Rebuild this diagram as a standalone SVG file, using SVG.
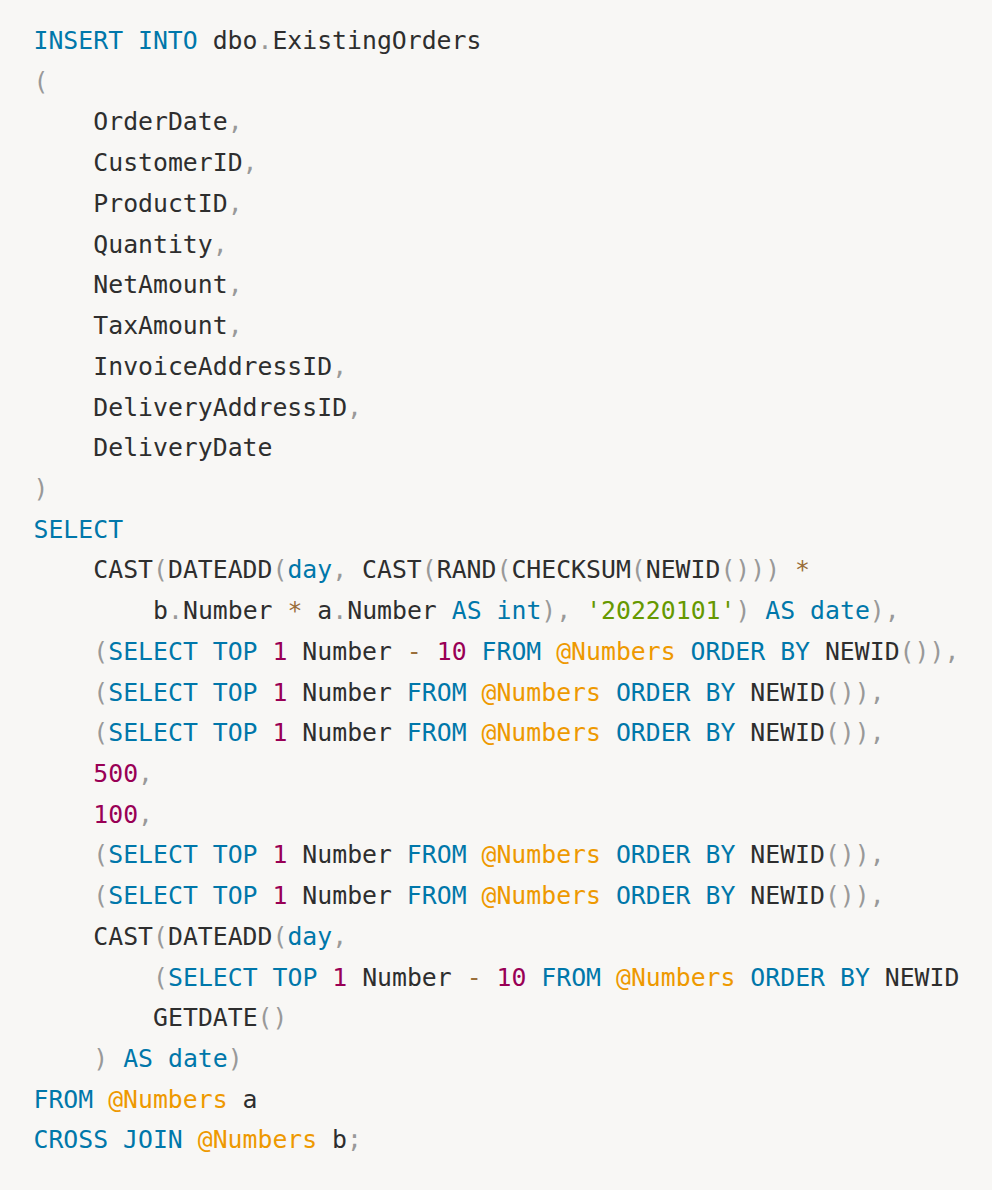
<svg xmlns="http://www.w3.org/2000/svg" width="992" height="1190" viewBox="0 0 992 1190">
<style>
text{font-family:"DejaVu Sans Mono","Liberation Mono",monospace;font-size:24.8px;fill:#2e2e2e;white-space:pre}
.k{fill:#0077aa}.p{fill:#999999}.n{fill:#990055}.s{fill:#669900}.o{fill:#9a6e3a}.v{fill:#ee9900}
</style>
<rect width="992" height="1190" fill="#f8f7f5"/>
<g id="code" xml:space="preserve">
<text x="33.5" y="49"><tspan class="k">INSERT INTO</tspan> dbo<tspan class="p">.</tspan>ExistingOrders</text>
<text x="33.5" y="89.7"><tspan class="p">(</tspan></text>
<text x="93.3" y="130.4">OrderDate<tspan class="p">,</tspan></text>
<text x="93.3" y="171.2">CustomerID<tspan class="p">,</tspan></text>
<text x="93.3" y="211.9">ProductID<tspan class="p">,</tspan></text>
<text x="93.3" y="252.6">Quantity<tspan class="p">,</tspan></text>
<text x="93.3" y="293.3">NetAmount<tspan class="p">,</tspan></text>
<text x="93.3" y="334">TaxAmount<tspan class="p">,</tspan></text>
<text x="93.3" y="374.8">InvoiceAddressID<tspan class="p">,</tspan></text>
<text x="93.3" y="415.5">DeliveryAddressID<tspan class="p">,</tspan></text>
<text x="93.3" y="456.2">DeliveryDate</text>
<text x="33.5" y="496.9"><tspan class="p">)</tspan></text>
<text x="33.5" y="537.6"><tspan class="k">SELECT</tspan></text>
<text x="93.3" y="578.4">CAST<tspan class="p">(</tspan>DATEADD<tspan class="p">(</tspan><tspan class="k">day</tspan><tspan class="p">,</tspan> CAST<tspan class="p">(</tspan>RAND<tspan class="p">(</tspan>CHECKSUM<tspan class="p">(</tspan>NEWID<tspan class="p">()))</tspan> <tspan class="o">*</tspan></text>
<text x="153.1" y="619.1">b<tspan class="p">.</tspan>Number <tspan class="o">*</tspan> a<tspan class="p">.</tspan>Number <tspan class="k">AS</tspan> <tspan class="k">int</tspan><tspan class="p">),</tspan> <tspan class="s">'20220101'</tspan><tspan class="p">)</tspan> <tspan class="k">AS</tspan> <tspan class="k">date</tspan><tspan class="p">),</tspan></text>
<text x="93.3" y="659.8"><tspan class="p">(</tspan><tspan class="k">SELECT</tspan> <tspan class="k">TOP</tspan> <tspan class="n">1</tspan> Number <tspan class="o">-</tspan> <tspan class="n">10</tspan> <tspan class="k">FROM</tspan> <tspan class="v">@Numbers</tspan> <tspan class="k">ORDER</tspan> <tspan class="k">BY</tspan> NEWID<tspan class="p">()),</tspan></text>
<text x="93.3" y="700.5"><tspan class="p">(</tspan><tspan class="k">SELECT</tspan> <tspan class="k">TOP</tspan> <tspan class="n">1</tspan> Number <tspan class="k">FROM</tspan> <tspan class="v">@Numbers</tspan> <tspan class="k">ORDER</tspan> <tspan class="k">BY</tspan> NEWID<tspan class="p">()),</tspan></text>
<text x="93.3" y="741.2"><tspan class="p">(</tspan><tspan class="k">SELECT</tspan> <tspan class="k">TOP</tspan> <tspan class="n">1</tspan> Number <tspan class="k">FROM</tspan> <tspan class="v">@Numbers</tspan> <tspan class="k">ORDER</tspan> <tspan class="k">BY</tspan> NEWID<tspan class="p">()),</tspan></text>
<text x="93.3" y="782"><tspan class="n">500</tspan><tspan class="p">,</tspan></text>
<text x="93.3" y="822.7"><tspan class="n">100</tspan><tspan class="p">,</tspan></text>
<text x="93.3" y="863.4"><tspan class="p">(</tspan><tspan class="k">SELECT</tspan> <tspan class="k">TOP</tspan> <tspan class="n">1</tspan> Number <tspan class="k">FROM</tspan> <tspan class="v">@Numbers</tspan> <tspan class="k">ORDER</tspan> <tspan class="k">BY</tspan> NEWID<tspan class="p">()),</tspan></text>
<text x="93.3" y="904.1"><tspan class="p">(</tspan><tspan class="k">SELECT</tspan> <tspan class="k">TOP</tspan> <tspan class="n">1</tspan> Number <tspan class="k">FROM</tspan> <tspan class="v">@Numbers</tspan> <tspan class="k">ORDER</tspan> <tspan class="k">BY</tspan> NEWID<tspan class="p">()),</tspan></text>
<text x="93.3" y="944.8">CAST<tspan class="p">(</tspan>DATEADD<tspan class="p">(</tspan><tspan class="k">day</tspan><tspan class="p">,</tspan></text>
<text x="153.1" y="985.6"><tspan class="p">(</tspan><tspan class="k">SELECT</tspan> <tspan class="k">TOP</tspan> <tspan class="n">1</tspan> Number <tspan class="o">-</tspan> <tspan class="n">10</tspan> <tspan class="k">FROM</tspan> <tspan class="v">@Numbers</tspan> <tspan class="k">ORDER</tspan> <tspan class="k">BY</tspan> NEWID</text>
<text x="153.1" y="1026.3">GETDATE<tspan class="p">()</tspan></text>
<text x="93.3" y="1067"><tspan class="p">)</tspan> <tspan class="k">AS</tspan> <tspan class="k">date</tspan><tspan class="p">)</tspan></text>
<text x="33.5" y="1107.7"><tspan class="k">FROM</tspan> <tspan class="v">@Numbers</tspan> a</text>
<text x="33.5" y="1148.4"><tspan class="k">CROSS JOIN</tspan> <tspan class="v">@Numbers</tspan> b<tspan class="p">;</tspan></text>
</g>
</svg>
